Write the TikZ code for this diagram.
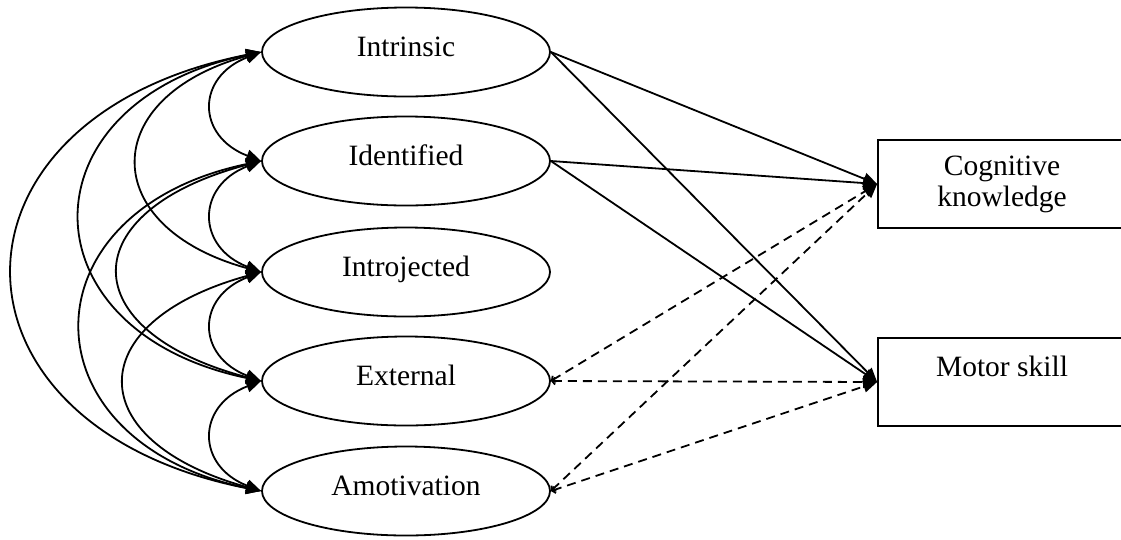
\documentclass[tikz,border=0pt]{standalone}
\usepackage{fontspec}
\setmainfont{Liberation Serif}
\usetikzlibrary{arrows.meta,shapes.geometric,calc}
\begin{document}
\begin{tikzpicture}[x=1pt,y=-1pt,
  factor/.style={draw, ellipse, line width=1.8pt, minimum width=288pt, minimum height=89pt,
    inner sep=0pt, text height=8pt, text depth=0pt, font=\fontsize{29.5}{31}\selectfont},
  outbox/.style={draw, rectangle, line width=1.8pt, minimum width=248pt, minimum height=88pt,
    inner sep=0pt, align=center, font=\fontsize{29.5}{31}\selectfont},
  cov/.style={line width=1.8pt, {Triangle[length=15pt,width=12pt]}-{Triangle[length=15pt,width=12pt]}},
  effect/.style={line width=1.8pt, -{Triangle[length=14pt,width=12pt]}},
  weak/.style={line width=1.8pt, dash pattern=on 9pt off 6pt,
    {Straight Barb[length=3pt,width=7pt]}-{Triangle[length=14pt,width=12pt]}}
]
\useasboundingbox (0,0) rectangle (1121,539);

\node[factor] (e1) at (406,52)  {Intrinsic};
\node[factor] (e2) at (406,161) {Identified};
\node[factor] (e3) at (406,272) {Introjected};
\node[factor] (e4) at (406,381) {External};
\node[factor] (e5) at (406,491) {Amotivation};

\node[outbox] (ck) at (1002,184) {Cognitive\\knowledge};
\node[outbox] (ms) at (1002,382) {Motor skill\\\mbox{}};

% covariances
\draw[cov] (e1.west) .. controls +(-65,25) and +(-65,-25) .. (e2.west);
\draw[cov] (e2.west) .. controls +(-65,25) and +(-65,-25) .. (e3.west);
\draw[cov] (e3.west) .. controls +(-65,25) and +(-65,-25) .. (e4.west);
\draw[cov] (e4.west) .. controls +(-65,25) and +(-65,-25) .. (e5.west);
\draw[cov] (e1.west) .. controls +(-164,45) and +(-164,-45) .. (e3.west);
\draw[cov] (e2.west) .. controls +(-189,50) and +(-189,-50) .. (e4.west);
\draw[cov] (e3.west) .. controls +(-181,50) and +(-181,-50) .. (e5.west);
\draw[cov] (e1.west) .. controls +(-240,50) and +(-240,-50) .. (e4.west);
\draw[cov] (e2.west) .. controls +(-239,50) and +(-239,-50) .. (e5.west);
\draw[cov] (e1.west) .. controls +(-330,65) and +(-330,-65) .. (e5.west);

% effects
\draw[effect] (e1.east) -- (ck.west);
\draw[effect] (e1.east) -- (ms.west);
\draw[effect] (e2.east) -- (ck.west);
\draw[effect] (e2.east) -- (ms.west);
\draw[weak] (e4.east) -- (ck.west);
\draw[weak] (e4.east) -- (ms.west);
\draw[weak] (e5.east) -- (ck.west);
\draw[weak] (e5.east) -- (ms.west);
\end{tikzpicture}
\end{document}
